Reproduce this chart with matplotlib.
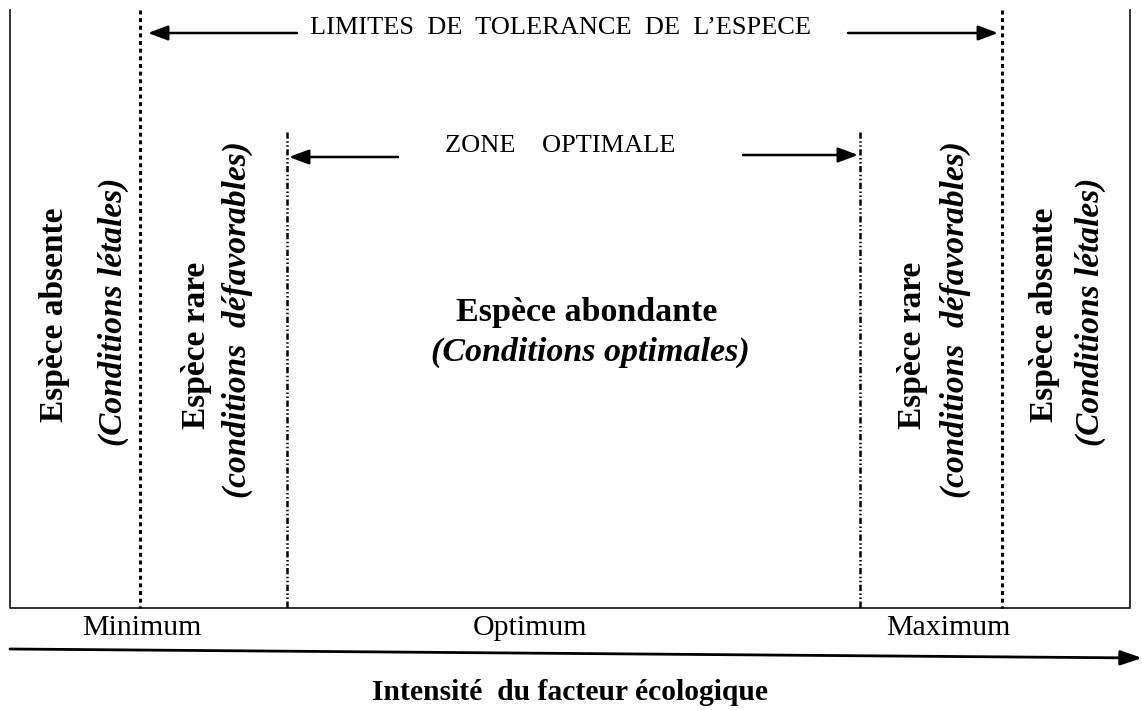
import matplotlib.pyplot as plt

# positions des limites le long du gradient (pixels du schema)
x_box = [10, 1130]
x_min, x_max = 140, 1002
x_opt_lo, x_opt_hi = 287, 860
y_top, y_bottom = 10, 608
y_opt_top = 132

gradient_labels = ['Minimum', 'Optimum', 'Maximum']
gradient_x = [142, 530, 948]

zones_bold = ['Espèce absente', 'Espèce rare', 'Espèce rare', 'Espèce absente']
zones_italic = ['(Conditions létales)', '(conditions  défavorables)',
                '(conditions  défavorables)', '(Conditions létales)']
zones_bold_x = [55, 197, 912, 1045]
zones_bold_y = [315, 345, 345, 315]
zones_italic_x = [113, 237, 955, 1090]
zones_italic_y = [312, 320, 320, 312]

plt.rcParams['font.family'] = ['Liberation Serif', 'DejaVu Serif']

fig = plt.figure(figsize=(11.42, 7.1), dpi=100)
ax = fig.add_axes([0, 0, 1, 1])
ax.set_xlim(0, 1142)
ax.set_ylim(710, 0)
ax.axis('off')

# cadre ouvert en haut
ax.plot([x_box[0], x_box[0], x_box[1], x_box[1]],
        [y_top, y_bottom, y_bottom, y_top], color='#222222', lw=1.3)

# limites de tolerance (pointilles) et zone optimale (tiret-point)
for x in [x_min, x_max]:
    ax.plot([x, x], [y_top, y_bottom], color='black', lw=2.2,
            linestyle=(0, (1.3, 1.2)))
for x in [x_opt_lo, x_opt_hi]:
    ax.plot([x, x], [y_opt_top, y_bottom], color='black', lw=1.8,
            linestyle=(0, (2.5, 1.0, 0.6, 1.0, 0.6, 1.0)))

arr = dict(arrowstyle='-|>,head_length=1.2,head_width=0.45', color='black',
           lw=1.8, shrinkA=0, shrinkB=0)
ax.annotate('', xy=(x_min + 8, 33), xytext=(297, 33), arrowprops=arr)
ax.annotate('', xy=(x_max - 4, 33), xytext=(848, 33), arrowprops=arr)
ax.text(561, 28, 'LIMITES  DE  TOLERANCE  DE  L\u2019ESPECE', fontsize=19,
        ha='center', va='center')

ax.annotate('', xy=(x_opt_lo + 2, 157), xytext=(398, 157), arrowprops=arr)
ax.annotate('', xy=(x_opt_hi - 2, 155), xytext=(743, 155), arrowprops=arr)
ax.text(560, 146, 'ZONE    OPTIMALE', fontsize=19, ha='center', va='center')

# zones laterales (texte vertical)
for t, x, y in zip(zones_bold, zones_bold_x, zones_bold_y):
    ax.text(x, y, t, fontsize=24, fontweight='bold', rotation=90,
            ha='center', va='center')
for t, x, y in zip(zones_italic, zones_italic_x, zones_italic_y):
    ax.text(x, y, t, fontsize=24, fontweight='bold', style='italic',
            rotation=90, ha='center', va='center')

# zone centrale
ax.text(587, 312, 'Espèce abondante', fontsize=24.5, fontweight='bold',
        ha='center', va='center')
ax.text(590, 352, '(Conditions optimales)', fontsize=24.5, fontweight='bold',
        style='italic', ha='center', va='center')

# gradient du facteur
for t, x in zip(gradient_labels, gradient_x):
    ax.text(x, 628, t, fontsize=21.5, ha='center', va='center')
ax.annotate('', xy=(1142, 658), xytext=(10, 649),
            arrowprops=dict(arrowstyle='-|>,head_length=1.3,head_width=0.45',
                            color='black', lw=2.0, shrinkA=0, shrinkB=0))
ax.text(570, 693, 'Intensité  du facteur écologique', fontsize=21.3,
        fontweight='bold', ha='center', va='center')

fig.savefig('out.png', dpi=100)
